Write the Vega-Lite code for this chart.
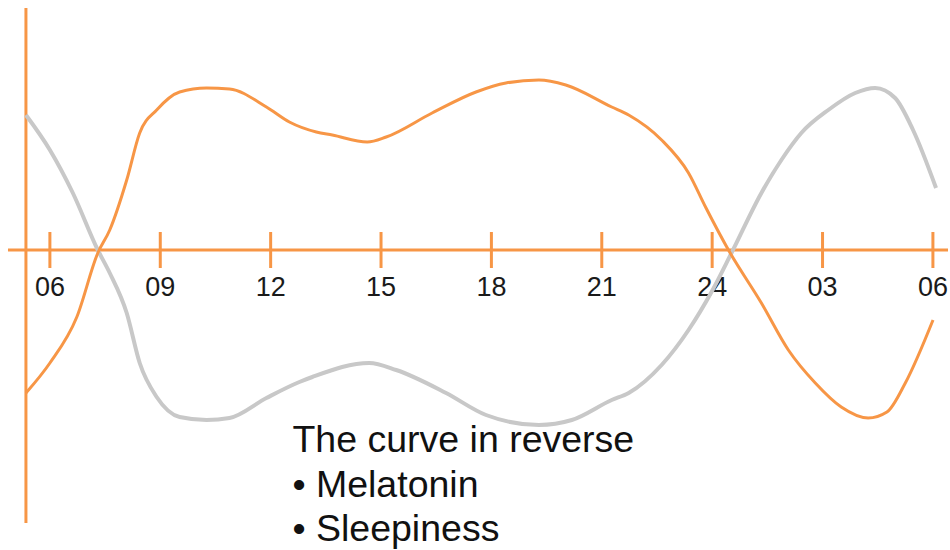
{
  "$schema": "https://vega.github.io/schema/vega-lite/v6.json",
  "width": 950,
  "height": 550,
  "autosize": {"type": "fit", "contains": "padding"},
  "padding": 0,
  "background": "white",
  "config": {"view": {"stroke": null}},
  "datasets": {
    "orange": [
      {"h": 5.349, "v": -143}, {"h": 6.0, "v": -113}, {"h": 6.732, "v": -67}, {"h": 7.302, "v": -3},
      {"h": 7.627, "v": 20}, {"h": 8.088, "v": 70}, {"h": 8.441, "v": 117}, {"h": 8.902, "v": 140},
      {"h": 9.526, "v": 158}, {"h": 10.258, "v": 162}, {"h": 10.882, "v": 161}, {"h": 11.885, "v": 143},
      {"h": 12.509, "v": 128}, {"h": 13.242, "v": 118}, {"h": 13.676, "v": 115}, {"h": 14.625, "v": 108},
      {"h": 15.14, "v": 113}, {"h": 16.388, "v": 137}, {"h": 17.581, "v": 158}, {"h": 18.395, "v": 167},
      {"h": 19.29, "v": 170}, {"h": 20.022, "v": 165}, {"h": 21.27, "v": 143}, {"h": 21.731, "v": 135},
      {"h": 22.626, "v": 110}, {"h": 23.358, "v": 77}, {"h": 23.82, "v": 43}, {"h": 24.443, "v": 0},
      {"h": 25.338, "v": -53}, {"h": 26.071, "v": -100}, {"h": 26.803, "v": -133}, {"h": 27.508, "v": -157},
      {"h": 28.24, "v": -168}, {"h": 28.75, "v": -162}, {"h": 29.25, "v": -133},
      {"h": 30.003, "v": -70}
    ],
    "gray": [
      {"h": 5.349, "v": 135}, {"h": 6.0, "v": 100}, {"h": 6.624, "v": 57}, {"h": 7.302, "v": 0},
      {"h": 7.627, "v": -23}, {"h": 8.088, "v": -63}, {"h": 8.441, "v": -113}, {"h": 8.902, "v": -147},
      {"h": 9.526, "v": -167}, {"h": 10.258, "v": -170}, {"h": 10.882, "v": -168}, {"h": 11.885, "v": -148},
      {"h": 12.78, "v": -132}, {"h": 13.133, "v": -127}, {"h": 14.679, "v": -113}, {"h": 15.412, "v": -120},
      {"h": 16.768, "v": -143}, {"h": 17.853, "v": -165}, {"h": 19.29, "v": -175}, {"h": 20.185, "v": -170},
      {"h": 21.27, "v": -150}, {"h": 21.731, "v": -143}, {"h": 22.626, "v": -115}, {"h": 23.358, "v": -80},
      {"h": 23.982, "v": -42}, {"h": 24.525, "v": -3}, {"h": 25.338, "v": 57}, {"h": 25.881, "v": 90},
      {"h": 26.423, "v": 117}, {"h": 27.156, "v": 140}, {"h": 27.888, "v": 157}, {"h": 28.43, "v": 162},
      {"h": 28.973, "v": 152}, {"h": 29.46, "v": 120},
      {"h": 30.085, "v": 62}
    ],
    "ticks": [
      {"h": 6, "label": "06"}, {"h": 9, "label": "09"}, {"h": 12, "label": "12"},
      {"h": 15, "label": "15"}, {"h": 18, "label": "18"}, {"h": 21, "label": "21"},
      {"h": 24, "label": "24"}, {"h": 27, "label": "03"}, {"h": 30, "label": "06"}
    ],
    "notes": [
      {"h": 12.591, "v": -202, "text": "The curve in reverse"},
      {"h": 12.591, "v": -247, "text": "• Melatonin"},
      {"h": 12.591, "v": -291, "text": "• Sleepiness"}
    ],
    "vaxis": [{"h": 5.349, "v1": 242, "v2": -273}],
    "haxis": [{"h1": 4.861, "h2": 30.41, "v": 0}]
  },
  "layer": [
    {
      "data": {"name": "vaxis"},
      "mark": {"type": "rule", "color": "#F79646", "strokeWidth": 3},
      "encoding": {
        "x": {"field": "h", "type": "quantitative", "scale": {"domain": [4.644, 30.41], "nice": false, "zero": false}, "axis": null},
        "y": {"field": "v1", "type": "quantitative", "scale": {"domain": [-300, 250], "nice": false, "zero": false}, "axis": null},
        "y2": {"field": "v2"}
      }
    },
    {
      "data": {"name": "haxis"},
      "mark": {"type": "rule", "color": "#F79646", "strokeWidth": 3, "strokeCap": "butt"},
      "encoding": {
        "x": {"field": "h1", "type": "quantitative"},
        "x2": {"field": "h2"},
        "y": {"field": "v", "type": "quantitative"}
      }
    },
    {
      "data": {"name": "ticks"},
      "mark": {"type": "rule", "color": "#F79646", "strokeWidth": 3},
      "encoding": {
        "x": {"field": "h", "type": "quantitative"},
        "y": {"datum": 18, "type": "quantitative"},
        "y2": {"datum": -18}
      }
    },
    {
      "data": {"name": "ticks"},
      "mark": {"type": "text", "font": "Liberation Sans", "fontSize": 27, "color": "#1a1a1a", "align": "center", "baseline": "alphabetic", "clip": true},
      "encoding": {
        "x": {"field": "h", "type": "quantitative"},
        "y": {"datum": -46, "type": "quantitative"},
        "text": {"field": "label"}
      }
    },
    {
      "data": {"name": "gray"},
      "mark": {"type": "line", "color": "#C8C8C8", "strokeWidth": 4, "interpolate": "monotone"},
      "encoding": {
        "x": {"field": "h", "type": "quantitative"},
        "y": {"field": "v", "type": "quantitative"}
      }
    },
    {
      "data": {"name": "orange"},
      "mark": {"type": "line", "color": "#F79646", "strokeWidth": 3, "interpolate": "monotone"},
      "encoding": {
        "x": {"field": "h", "type": "quantitative"},
        "y": {"field": "v", "type": "quantitative"}
      }
    },
    {
      "data": {"name": "notes"},
      "mark": {"type": "text", "font": "Liberation Sans", "fontSize": 37.5, "color": "#111111", "align": "left", "baseline": "alphabetic"},
      "encoding": {
        "x": {"field": "h", "type": "quantitative"},
        "y": {"field": "v", "type": "quantitative"},
        "text": {"field": "text"}
      }
    }
  ]
}
